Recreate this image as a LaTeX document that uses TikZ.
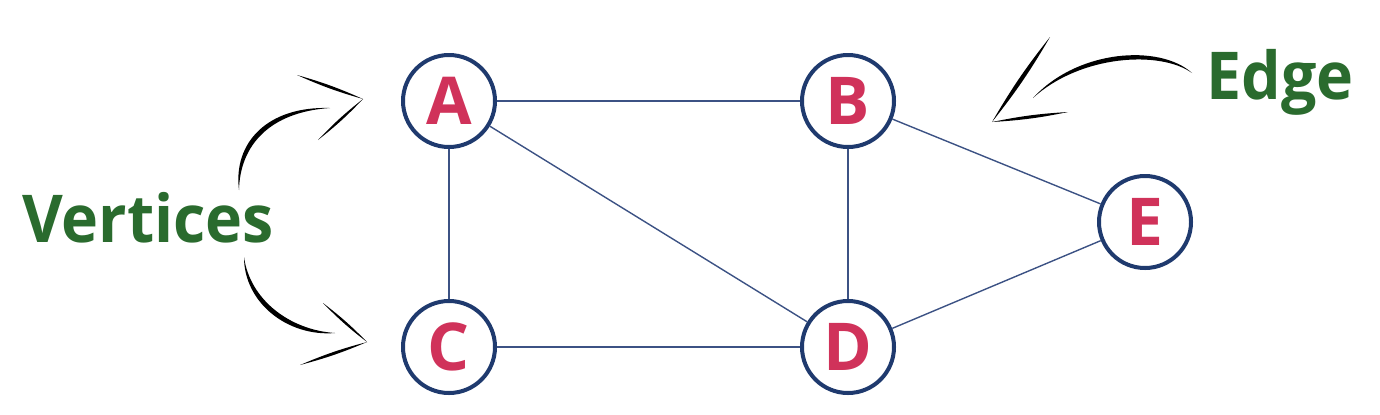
\documentclass[tikz,border=0pt]{standalone}
\usepackage{fontspec}
\newfontfamily\graphfont{Open Sans}
\newfontfamily\captionfont{Open Sans}[FakeStretch=0.95]
\usetikzlibrary{calc}
\usepackage{xcolor}
\definecolor{vertexred}{HTML}{D0325A}
\definecolor{vertexblue}{HTML}{1F3A6E}
\definecolor{edgeblue}{HTML}{3C5284}
\definecolor{labelgreen}{HTML}{2A6B2E}

\begin{document}
\begin{tikzpicture}[x=0.5pt,y=-0.5pt,
  vertex/.style={circle, draw=vertexblue, line width=2pt, fill=white, minimum size=46pt, inner sep=0pt,
    font=\graphfont\bfseries\fontsize{33}{40}\selectfont, text=vertexred},
  link/.style={draw=edgeblue, line width=0.7pt},
  caption/.style={font=\captionfont\bfseries\fontsize{33}{40}\selectfont, text=labelgreen},
  brush/.style={fill=black}]

\useasboundingbox (0,0) rectangle (1380,414);

\node[vertex] (a) at (449,101) {A};
\node[vertex] (b) at (848,101) {B};
\node[vertex] (c) at (449,347) {C};
\node[vertex] (d) at (848,347) {D};
\node[vertex] (e) at (1145,222) {E};

\draw[link] (a) -- (b);
\draw[link] (a) -- (c);
\draw[link] (a) -- (d);
\draw[link] (b) -- (d);
\draw[link] (b) -- (e);
\draw[link] (c) -- (d);
\draw[link] (d) -- (e);

\node[caption] (vertices) at (148,218) {Vertices};
\node[caption] (edge) at (1280,82) {Edge};

% arrow to A
\fill[brush] (239,190) .. controls (240,145) and (270,112) .. (330,108)
  .. controls (267,106) and (233,143) .. (239,190);
\fill[brush] (297,75) to[bend left=4] (363,99) to[bend left=4] (297,75);
\fill[brush] (318,140) to[bend left=4] (363,99) to[bend left=4] (318,140);

% arrow to C
\fill[brush] (244,257) .. controls (250,300) and (290,330) .. (335,333)
  .. controls (288,337) and (244,303) .. (244,257);
\fill[brush] (323,303) to[bend left=4] (367,342) to[bend left=4] (323,303);
\fill[brush] (300,365) to[bend left=4] (367,342) to[bend left=4] (300,365);

% arrow to edge
\fill[brush] (1192,73) .. controls (1160,50) and (1080,55) .. (1033,98)
  .. controls (1078,49) and (1160,44) .. (1192,73);
\fill[brush] (1050,37) to[bend left=4] (992,122) to[bend left=4] (1050,37);
\fill[brush] (1068,112) to[bend left=4] (992,122) to[bend left=4] (1068,112);

\end{tikzpicture}
\end{document}
